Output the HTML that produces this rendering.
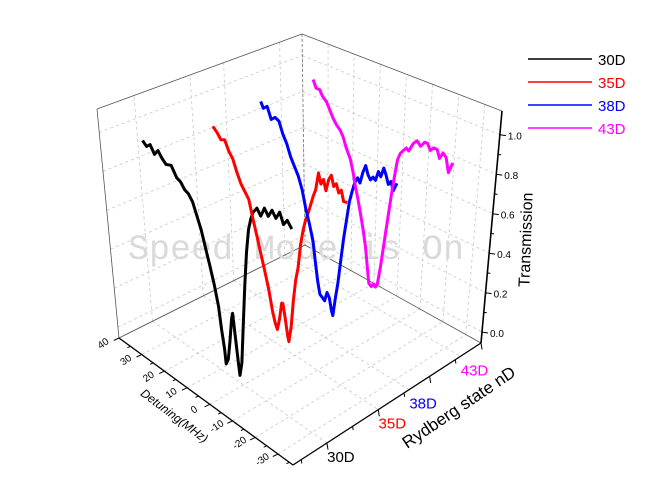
<!DOCTYPE html>
<html><head><meta charset="utf-8"><style>
html,body{margin:0;padding:0;background:#fff;}
svg{display:block;font-family:"Liberation Sans",sans-serif;}
</style></head><body>
<svg id="chart" width="656" height="499" viewBox="0 0 656 499" xmlns="http://www.w3.org/2000/svg">
<g id="grid"></g>
<g id="frame"></g>
<text x="296" y="259" text-anchor="middle" font-family="Liberation Mono, monospace" font-size="35" fill="#dadada" letter-spacing="0">Speed Mode is On</text>
<g id="series"></g>
<g id="axes"></g>
<text transform="translate(172,419) rotate(37)" text-anchor="middle" font-size="12" font-style="italic" fill="#000">Detuning(MHz)</text>
<text transform="translate(462,412) rotate(-34)" text-anchor="middle" font-size="17" fill="#000">Rydberg state nD</text>
<text transform="translate(531,240) rotate(-88)" text-anchor="middle" font-size="16" fill="#000">Transmission</text>
<g>
 <g><line x1="528" y1="59" x2="592" y2="59" stroke="#000" stroke-width="1.5"/><text x="598" y="65" font-size="15" fill="#000">30D</text></g>
 <g><line x1="528" y1="82" x2="592" y2="82" stroke="#f00" stroke-width="1.5"/><text x="598" y="88" font-size="15" fill="#f00">35D</text></g>
 <g><line x1="528" y1="105" x2="592" y2="105" stroke="#00f" stroke-width="1.5"/><text x="598" y="111" font-size="15" fill="#00f">38D</text></g>
 <g><line x1="528" y1="128" x2="592" y2="128" stroke="#f0f" stroke-width="1.5"/><text x="598" y="134" font-size="15" fill="#f0f">43D</text></g>
</g>
</svg>
<script>
const detTicks = [40, 30, 20, 10, 0, -10, -20, -30];
const zTicks = [0, 0.2, 0.4, 0.6, 0.8, 1.0];
const zTickLabels = ["0.0", "0.2", "0.4", "0.6", "0.8", "1.0"];
const nValues = [30, 35, 38, 43];
const nLabels = ["30D", "35D", "38D", "43D"];
const colors = ["#000", "#f00", "#00f", "#f0f"];

const det30 = [38,36.5,35,33.5,32,30.5,29,27,25,23.5,22,20.5,19,17.5,16,14.5,13,11.5,10,9,8,7.5,6.5,5.5,4.5,4,3,2,1.5,0.5,-0.5,-1.5,-2.5,-3.5,-4.5,-5.5,-7,-8.5,-10,-11.5,-13,-14.5,-16,-17.5,-19,-20.8];
const tr30 = [.90,.88,.90,.86,.89,.86,.84,.85,.80,.79,.76,.75,.72,.66,.60,.52,.44,.36,.26,.15,.06,-.01,.02,.12,.24,.27,.15,.03,-.02,.05,.25,.45,.62,.74,.80,.84,.87,.84,.89,.86,.90,.87,.91,.86,.89,.86];
const det35 = [32,30.5,29,27.5,26,24.5,23,21.5,20,18.5,17,15.5,14,12.5,11,9.5,8.5,7.5,6.5,5.5,5,4,3,2.5,1.5,0.5,-0.5,-1.5,-2.5,-3.5,-4.5,-5.5,-6.5,-7.5,-8.5,-9.5,-10.5,-11.5,-12.5,-13.5,-14.5,-15.5,-16.5,-17.5,-18.5,-19.5,-21];
const tr35 = [.90,.88,.85,.86,.81,.78,.72,.67,.64,.61,.52,.44,.36,.28,.20,.10,.05,.02,.08,.17,.17,.10,.02,-.005,.08,.22,.33,.40,.52,.60,.66,.70,.75,.80,.84,.93,.88,.91,.86,.92,.95,.90,.92,.88,.90,.85,.855];
const det38 = [26,25,23.5,22,20.5,19,17.5,16,14.5,13,11.5,10,8.5,7,5.5,4.5,3.5,2.5,1.5,0.5,-0.5,-1.5,-2.5,-3.1,-4,-5,-6,-7,-8,-9,-10,-11,-12,-13,-14,-15,-16,-17,-18,-19,-20,-21,-22,-23,-24,-25,-26,-27.3];
const tr38 = [1.0,.97,.99,.93,.95,.94,.88,.84,.78,.74,.70,.64,.55,.48,.40,.30,.21,.15,.14,.13,.18,.16,.10,.08,.17,.26,.38,.50,.60,.70,.76,.81,.84,.82,.88,.92,.88,.86,.88,.87,.92,.90,.95,.92,.88,.90,.86,.905];
const det43 = [27.2,26,24.7,23.5,22,20.5,19.5,18,16.5,15.3,14,12.3,11,10.1,9,7.8,6.5,5.4,4.5,3.6,2.5,1.5,0.7,0,-1.1,-2.2,-3.3,-4.8,-6.3,-7.3,-8.4,-9.5,-10.5,-12.2,-13.5,-15,-16.5,-17.6,-18.8,-20,-21.4,-22.5,-23.7,-25,-26.3,-27.7];
const tr43 = [.99,.95,.95,.92,.90,.86,.83,.80,.78,.75,.70,.65,.58,.52,.46,.39,.31,.23,.14,.05,.04,.06,.05,.07,.17,.30,.43,.61,.76,.80,.82,.84,.83,.88,.90,.88,.91,.91,.88,.90,.90,.86,.895,.88,.81,.867];

const NS = "http://www.w3.org/2000/svg";
const F00=[119,338],F10=[293,465],F11=[481,343],F01=[305,245];
const T00=[97,109],T10=[296,215],T11=[502,111],T01=[302,34];
function bil(a,b,c,d,t,s){
  return [a[0]*(1-t)*(1-s)+b[0]*t*(1-s)+c[0]*t*s+d[0]*(1-t)*s,
          a[1]*(1-t)*(1-s)+b[1]*t*(1-s)+c[1]*t*s+d[1]*(1-t)*s];
}
function tOf(d){return (40-d)/76.6;}
function sOf(n){return (n-26.7)/18.3;}
function uOf(z){return (z+0.055)/1.175;}
function proj(t,s,u){
  const f=bil(F00,F10,F11,F01,t,s), g=bil(T00,T10,T11,T01,t,s);
  return [f[0]+u*(g[0]-f[0]), f[1]+u*(g[1]-f[1])];
}
function P(d,n,z){return proj(tOf(d),sOf(n),uOf(z));}
function mk(tag,attrs,parent){const e=document.createElementNS(NS,tag);for(const k in attrs)e.setAttribute(k,attrs[k]);parent.appendChild(e);return e;}
function line(p,q,parent,st){return mk("line",Object.assign({x1:p[0].toFixed(1),y1:p[1].toFixed(1),x2:q[0].toFixed(1),y2:q[1].toFixed(1)},st),parent);}

const grid=document.getElementById("grid");
const gst={stroke:"#c8c8c8","stroke-width":"0.8","stroke-dasharray":"3,3"};
detTicks.forEach(d=>{const l=line(proj(tOf(d),0,0),proj(tOf(d),1,0),grid,gst);

});
nValues.forEach(n=>{const l=line(proj(0,sOf(n),0),proj(1,sOf(n),0),grid,gst);

});
nValues.forEach(n=>{const l=line(proj(0,sOf(n),0),proj(0,sOf(n),1),grid,gst);

});
zTicks.forEach(z=>{const l=line(proj(0,0,uOf(z)),proj(0,1,uOf(z)),grid,gst);

});
detTicks.forEach(d=>{const l=line(proj(tOf(d),1,0),proj(tOf(d),1,1),grid,gst);

});
zTicks.forEach(z=>{const l=line(proj(0,1,uOf(z)),proj(1,1,uOf(z)),grid,gst);

});

const frame=document.getElementById("frame");
const fst={stroke:"#555","stroke-width":"0.8"};
[[T00,T01],[T01,T11],[T00,F00],[F00,F01],[F01,F11]].forEach(e=>{const l=line(e[0],e[1],frame,fst);

});
{const l=line(T01,F01,frame,{stroke:"#777","stroke-width":"0.8","stroke-dasharray":"3,2"});

}

const series=document.getElementById("series");
const allDet=[det30,det35,det38,det43], allTr=[tr30,tr35,tr38,tr43];
allDet.forEach((ds,i)=>{
  const pts=ds.map((d,j)=>P(d,nValues[i],allTr[i][j]).map(v=>v.toFixed(1)).join(",")).join(" ");
  const pl=mk("polyline",{points:pts,fill:"none",stroke:colors[i],"stroke-width":"3","stroke-linejoin":"round"},series);
  
  
});

const axes=document.getElementById("axes");
const ast={stroke:"#000","stroke-width":"1.3"};
{const l=line(F00,F10,axes,ast);

}
{const l=line(F10,F11,axes,ast);

}
{const l=line(F11,T11,axes,{stroke:"#000","stroke-width":"1.6"});

}
for(let d=40; d>=-35; d-=5){
  const p=proj(tOf(d),0,0), major=(d%10===0), len=major?7:4;
  const l=line(p,[p[0]-len*0.75,p[1]+len*0.35],axes,{stroke:"#000","stroke-width":"1"});
  
  
}
detTicks.forEach(d=>{
  const p=proj(tOf(d),0,0);
  const t=mk("text",{transform:`translate(${(p[0]-14).toFixed(1)},${(p[1]+8).toFixed(1)}) rotate(-35)`,"text-anchor":"middle","font-size":"10",fill:"#000"},axes);
  t.textContent=String(d);
  
  
});
for(let n=27.5; n<=45; n+=2.5){
  const p=proj(1,sOf(n),0), major=(Math.round(n*2)%10===0), len=major?7:4;
  const l=line(p,[p[0]+len*0.15,p[1]+len*0.95],axes,{stroke:"#000","stroke-width":"1"});
  
  
}
nValues.forEach((n,i)=>{
  const p=proj(1,sOf(n),0);
  const t=mk("text",{x:(p[0]+14).toFixed(1),y:(p[1]+19).toFixed(1),"text-anchor":"middle","font-size":"15",fill:colors[i]},axes);
  t.textContent=nLabels[i];
  
  
});
for(let z=0; z<=1.0001; z+=0.1){
  const p=proj(1,1,uOf(z)), major=(Math.round(z*10)%2===0), len=major?6:3;
  const l=line(p,[p[0]+len,p[1]+len*0.15],axes,{stroke:"#000","stroke-width":"1"});
  
  
}
zTicks.forEach((z,i)=>{
  const p=proj(1,1,uOf(z));
  const t=mk("text",{x:(p[0]+8).toFixed(1),y:(p[1]+5).toFixed(1),"font-size":"10",fill:"#000"},axes);
  t.textContent=zTickLabels[i];
  
  
});
</script>
</body></html>
